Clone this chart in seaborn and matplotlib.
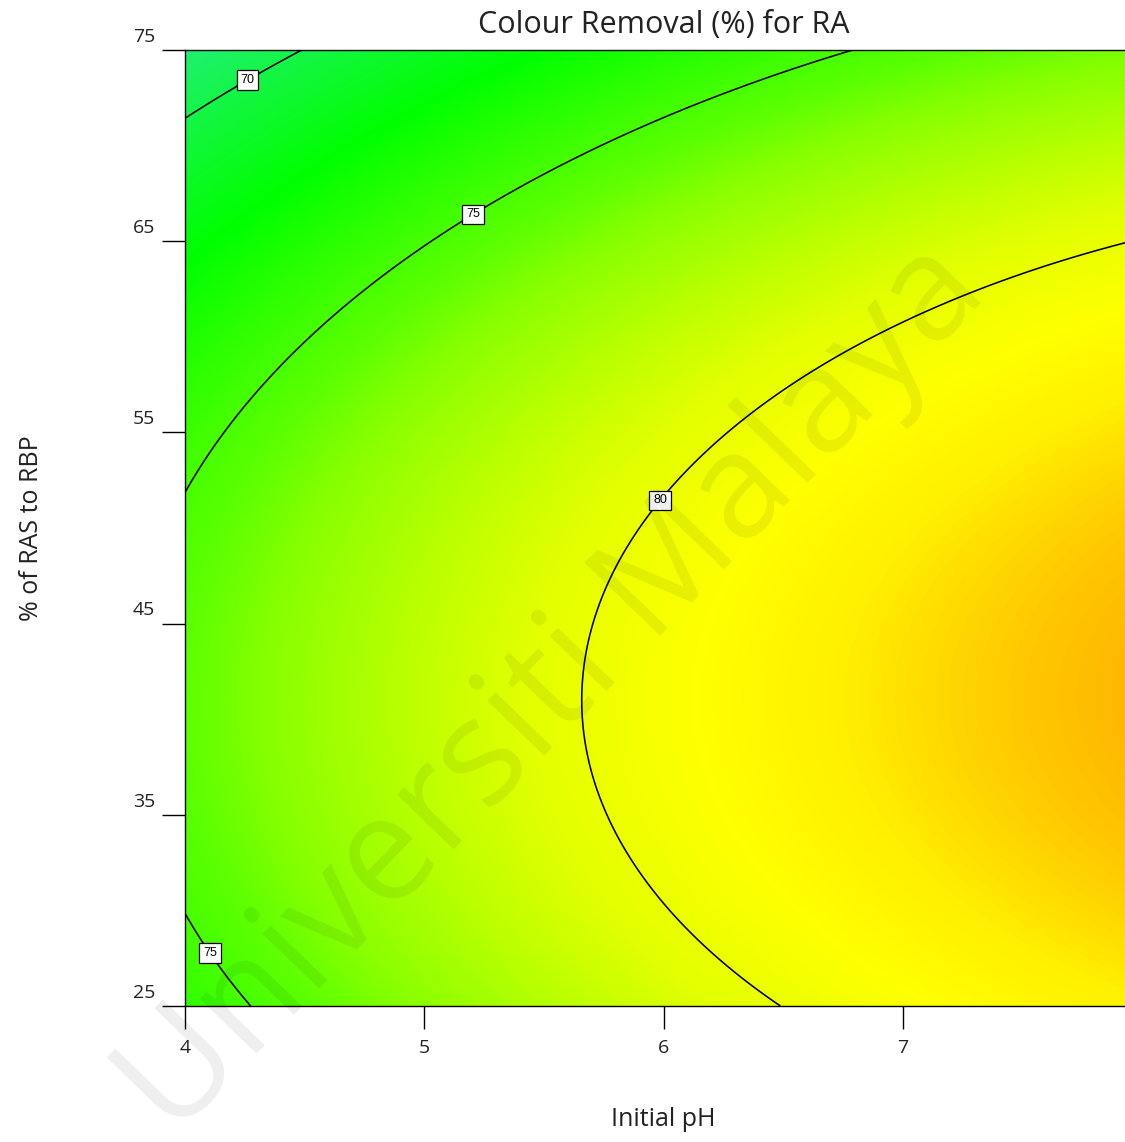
import numpy as np
import matplotlib
matplotlib.use("Agg")
import matplotlib.pyplot as plt
import matplotlib.transforms as mtransforms
from matplotlib.colors import LinearSegmentedColormap, Normalize
import seaborn as sns

# Factor ranges and axis ticks
ph_range = [4.0, 8.0]
ras_range = [25.0, 75.0]
x_ticks = [4, 5, 6, 7]
y_ticks = [25, 35, 45, 55, 65, 75]
contour_levels = [70, 75, 80]

# Fitted quadratic model in coded units (A: initial pH, B: % of RAS to RBP)
coef_terms = ["Intercept", "A", "B", "AB", "A^2", "B^2"]
coef_values = [80.20, 3.91, -2.76, 0.05, -1.06, -3.84]

# Label anchor points (pH, % RAS) for each drawn contour label
label_points = [(4.25, 73.7), (5.19, 66.7), (5.97, 51.6), (4.12, 27.9)]

# Response colour scale
stop_values = [66.0, 68.6, 72.5, 75.7, 76.7, 79.5, 81.0, 82.0, 83.6, 86.0]
stop_colors = ["#00e5c8", "#20f070", "#00ff00", "#5cff00", "#86ff00",
               "#e2ff00", "#ffff00", "#fff000", "#ffb400", "#ff7000"]

sns.set_theme(style="white")
plt.rcParams["font.family"] = ["Open Sans", "DejaVu Sans"]

coef = dict(zip(coef_terms, coef_values))


def response(ph, ras):
    a = (ph - 6.0) / 2.0
    b = (ras - 50.0) / 25.0
    return (coef["Intercept"] + coef["A"] * a + coef["B"] * b
            + coef["AB"] * a * b + coef["A^2"] * a ** 2 + coef["B^2"] * b ** 2)


ph = np.linspace(ph_range[0], ph_range[1], 500)
ras = np.linspace(ras_range[0], ras_range[1], 500)
PH, RAS = np.meshgrid(ph, ras)
Z = response(PH, RAS)

vmin, vmax = stop_values[0], stop_values[-1]
cmap = LinearSegmentedColormap.from_list(
    "resp", [((v - vmin) / (vmax - vmin), c) for v, c in zip(stop_values, stop_colors)])

W, H = 1125, 1142
fig = plt.figure(figsize=(W / 100, H / 100), dpi=100)
ax = fig.add_axes([185 / W, 136 / H, 957 / W, 956 / H])

ax.imshow(Z, extent=[ph_range[0], ph_range[1], ras_range[0], ras_range[1]],
          origin="lower", aspect="auto", cmap=cmap, norm=Normalize(vmin, vmax),
          interpolation="bilinear", zorder=1)

cs = ax.contour(PH, RAS, Z, levels=contour_levels, colors="black",
                linewidths=1.15, zorder=2)
texts = ax.clabel(cs, inline=False, fmt="%d", manual=label_points,
                  fontsize=9, colors="black")
for t in texts:
    t.set_rotation(0)
    t.set_family(["Liberation Sans", "DejaVu Sans"])
    t.set_zorder(5)
    t.set_bbox(dict(boxstyle="square,pad=0.3", fc="white", ec="black", lw=0.9))

ax.set_xlim(ph_range)
ax.set_ylim(ras_range)
ax.set_xticks(x_ticks)
ax.set_yticks(y_ticks)
ax.tick_params(axis="both", direction="out", length=16.5, width=1.0,
               color="black", labelsize=14, labelcolor="#222222")
ax.tick_params(axis="x", pad=7)
ax.tick_params(axis="y", pad=5)
ax.xaxis.set_ticks_position("bottom")
ax.yaxis.set_ticks_position("left")

# y tick labels sit just above their tick marks
shift = mtransforms.ScaledTranslation(0, 3 / 72, fig.dpi_scale_trans)
for lab in ax.get_yticklabels():
    lab.set_va("bottom")
    lab.set_transform(lab.get_transform() + shift)

for sp in ax.spines.values():
    sp.set_color("black")
    sp.set_linewidth(1.0)
    sp.set_zorder(6)

ax.set_xlabel("Initial pH", fontsize=18, labelpad=36, color="#222222")
ax.set_ylabel("% of RAS to RBP", fontsize=18, labelpad=64, color="#222222")
ax.set_title("Colour Removal (%) for RA", fontsize=22, pad=12, color="#222222")

fig.text(555 / W, 1 - 690 / H, "Universiti Malaya", rotation=46,
         rotation_mode="anchor", ha="center", va="center",
         fontsize=106, color="black", alpha=0.065, zorder=10)

fig.savefig("out.png", dpi=100, facecolor="white")
